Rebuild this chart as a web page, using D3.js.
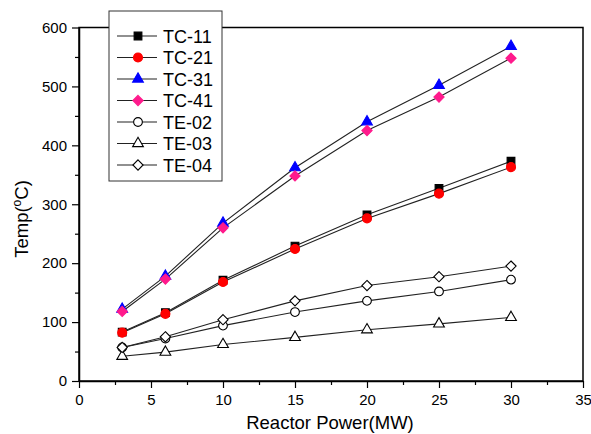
<!DOCTYPE html>
<html>
<head>
<meta charset="utf-8">
<script src="https://cdn.jsdelivr.net/npm/d3@7"></script>
<style>
  body { margin: 0; background: #fff; }
  text { font-family: "Liberation Sans", Arial, sans-serif; }
</style>
</head>
<body>
<div id="chart"></div>
<script>
var power = [3, 6, 10, 15, 20, 25, 30];

var tc11 = [83, 116, 171, 229, 282, 327, 373];
var tc21 = [82, 114, 168, 224, 276, 318, 363];
var tc31 = [122, 178, 268, 362, 440, 502, 568];
var tc41 = [118, 173, 260, 348, 425, 482, 548];
var te02 = [57, 72, 94, 117, 136, 152, 172];
var te03 = [42, 49, 62, 74, 87, 97, 108];
var te04 = [57, 75, 104, 136, 162, 177, 195];

var seriesNames = ["TC-11", "TC-21", "TC-31", "TC-41", "TE-02", "TE-03", "TE-04"];
var xTicks = [0, 5, 10, 15, 20, 25, 30, 35];
var yTicks = [0, 100, 200, 300, 400, 500, 600];

var svgWidth = 591, svgHeight = 434;
var margin = {top: 27.5, right: 8, bottom: 53, left: 79};
var width = 583 - margin.left;
var height = 381 - margin.top;

var svg = d3.select("#chart").append("svg")
  .attr("width", svgWidth)
  .attr("height", svgHeight);

var chartGroup = svg.append("g")
  .attr("transform", `translate(${margin.left}, ${margin.top})`);

var x = d3.scaleLinear().domain([0, 35]).range([0, width]);
var y = d3.scaleLinear().domain([0, 600]).range([height, 0]);

// frame
chartGroup.append("rect")
  .attr("width", width).attr("height", height)
  .attr("fill", "none").attr("stroke", "#000").attr("stroke-width", 1.5);

// axes with minor ticks
var xAxis = chartGroup.append("g").attr("transform", `translate(0, ${height})`)
  .call(d3.axisBottom(x).tickValues(xTicks).tickSize(7).tickSizeOuter(0));
chartGroup.append("g").attr("transform", `translate(0, ${height})`)
  .call(d3.axisBottom(x).tickValues(d3.range(2.5, 35, 5)).tickSize(4).tickFormat(""))
  .select(".domain").remove();

var yAxis = chartGroup.append("g")
  .call(d3.axisLeft(y).tickValues(yTicks).tickSize(7).tickSizeOuter(0));
chartGroup.append("g")
  .call(d3.axisLeft(y).tickValues(d3.range(50, 600, 100)).tickSize(4).tickFormat(""))
  .select(".domain").remove();

chartGroup.selectAll(".domain").attr("stroke-width", 1.5);
chartGroup.selectAll(".tick line").attr("stroke-width", 1.2);
xAxis.selectAll("text").attr("font-size", 15).attr("y", 12).attr("dy", "0.8em");
yAxis.selectAll("text").attr("font-size", 15).attr("x", -12);

// axis titles
svg.append("text")
  .attr("x", 330)
  .attr("y", 429)
  .attr("text-anchor", "middle")
  .attr("font-size", 18.5)
  .text("Reactor Power(MW)");

var yTitle = svg.append("text")
  .attr("transform", "translate(28, 219) rotate(-90)")
  .attr("text-anchor", "middle")
  .attr("font-size", 18.5);
yTitle.append("tspan").text("Temp(");
yTitle.append("tspan").attr("font-size", 12).attr("dy", -7).text("o");
yTitle.append("tspan").attr("dy", 7).text("C)");

var diamond = {
  draw: function(ctx, size) {
    var r = Math.sqrt(size / 2);
    ctx.moveTo(0, -r); ctx.lineTo(r, 0); ctx.lineTo(0, r); ctx.lineTo(-r, 0); ctx.closePath();
  }
};

var series = [
  {name: seriesNames[0], values: tc11, shape: d3.symbolSquare, fill: "#000", stroke: "#000", size: 60},
  {name: seriesNames[1], values: tc21, shape: d3.symbolCircle, fill: "#ff0000", stroke: "#ff0000", size: 64},
  {name: seriesNames[2], values: tc31, shape: d3.symbolTriangle, fill: "#0000ff", stroke: "#0000ff", size: 50},
  {name: seriesNames[3], values: tc41, shape: diamond, fill: "#ff1a8c", stroke: "#ff1a8c", size: 52},
  {name: seriesNames[4], values: te02, shape: d3.symbolCircle, fill: "#fff", stroke: "#000", size: 60},
  {name: seriesNames[5], values: te03, shape: d3.symbolTriangle, fill: "#fff", stroke: "#000", size: 50},
  {name: seriesNames[6], values: te04, shape: diamond, fill: "#fff", stroke: "#000", size: 52}
];

var line = d3.line().x((d, i) => x(power[i])).y(d => y(d));

series.forEach(function(s) {
  chartGroup.append("path")
    .attr("d", line(s.values))
    .attr("fill", "none")
    .attr("stroke", "#222")
    .attr("stroke-width", 1.1);
});

series.forEach(function(s) {
  chartGroup.selectAll(null)
    .data(s.values)
    .enter()
    .append("path")
    .attr("transform", (d, i) => `translate(${x(power[i])}, ${y(d)})`)
    .attr("d", d3.symbol().type(s.shape).size(s.size))
    .attr("fill", s.fill)
    .attr("stroke", s.stroke)
    .attr("stroke-width", 1.1);
});

// legend
var legend = svg.append("g").attr("transform", "translate(109, 11)");
legend.append("rect")
  .attr("width", 113).attr("height", 170)
  .attr("fill", "#fff").attr("stroke", "#333").attr("stroke-width", 1);

series.forEach(function(s, i) {
  var row = legend.append("g").attr("transform", `translate(0, ${25 + i * 21.5})`);
  row.append("line").attr("x1", 8).attr("x2", 48)
    .attr("stroke", "#222").attr("stroke-width", 1.1);
  row.append("path")
    .attr("transform", "translate(29, 0)")
    .attr("d", d3.symbol().type(s.shape).size(s.size))
    .attr("fill", s.fill).attr("stroke", s.stroke).attr("stroke-width", 1.1);
  row.append("text")
    .attr("x", 54).attr("y", 6.5)
    .attr("font-size", 18)
    .text(s.name);
});
</script>
</body>
</html>
